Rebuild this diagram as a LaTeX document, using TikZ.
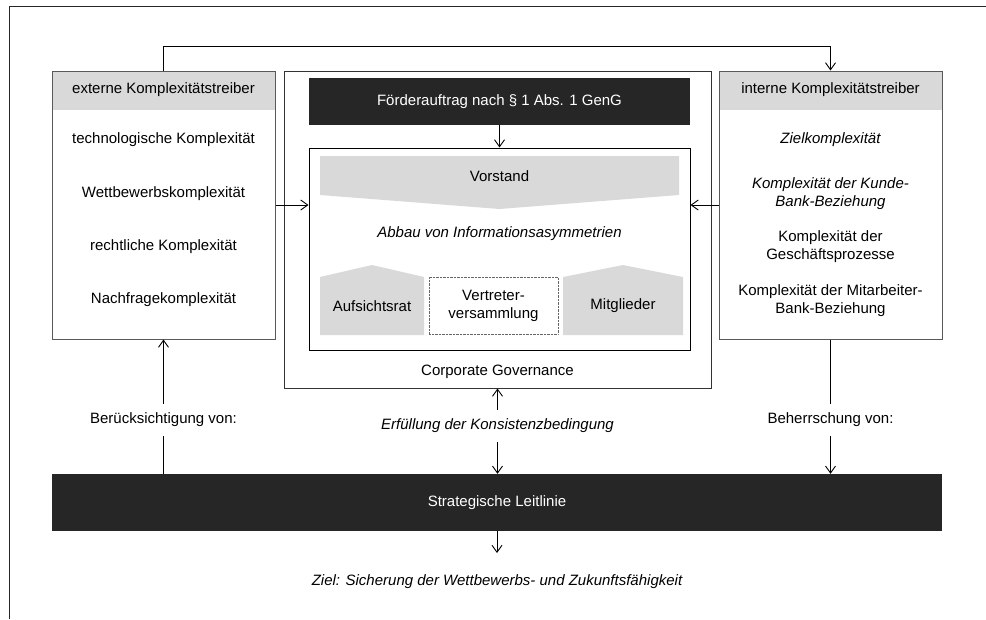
\documentclass[tikz,border=0pt]{standalone}
\usepackage{fontspec}
\setmainfont{Liberation Sans}
\usetikzlibrary{arrows.meta}
\definecolor{hellgrau}{HTML}{D9D9D9}
\definecolor{dunkel}{HTML}{262626}
\definecolor{rahmen}{HTML}{595959}
\tikzset{
  every node/.style={font=\fontsize{15}{18}\selectfont, align=center},
  treiber/.style={draw=rahmen, line width=1pt, minimum width=223pt, minimum height=268pt,
    path picture={\fill[hellgrau] (path picture bounding box.north west) rectangle ([yshift=-39pt]path picture bounding box.north east);}},
  schwarzbox/.style={fill=dunkel, text=white, inner sep=0pt},
  pfeil/.style={-{Straight Barb[length=7pt,width=10pt]}, line width=0.9pt},
  linie/.style={line width=0.9pt},
  marke/.style={minimum height=32pt, inner sep=0pt},
  organ/.style={fill=hellgrau},
}

\begin{document}
\begin{tikzpicture}[x=1pt, y=-1pt]
			\useasboundingbox (0,0) rectangle (986,619);
			
			%%%%% RAHMEN %%%%%
			\draw[line width=0.9pt, color=black!85] (9,619) -- (9,6) -- (986,6);
			
			%%%%% TREIBER %%%%%
			\node[treiber] (ext) at (163.5,205) {};
			\node (exthdr) at (163.5,90) {externe Komplexitätstreiber};
			\node (ext1) at (163.5,140) {technologische Komplexität};
			\node (ext2) at (163.5,194) {Wettbewerbskomplexität};
			\node (ext3) at (163.5,247) {rechtliche Komplexität};
			\node (ext4) at (163.5,300) {Nachfragekomplexität};
			
			\node[treiber] (int) at (830.5,205) {};
			\node (inthdr) at (830.5,90) {interne Komplexitätstreiber};
			\node (int1) at (830.5,140) {\itshape Zielkomplexität};
			\node (int2) at (830.5,194) {\itshape Komplexität der Kunde-\\\itshape Bank-Beziehung};
			\node (int3) at (830.5,247) {Komplexität der\\Geschäftsprozesse};
			\node (int4) at (830.5,301) {Komplexität der Mitarbeiter-\\Bank-Beziehung};
			
			%%%%% CORPORATE GOVERNANCE %%%%%
			\node[draw=black!80, line width=1pt, minimum width=427pt, minimum height=317pt] (cg) at (497.5,229.5) {};
			\node (cgtext) at (497.5,372) {Corporate Governance};
			
			\node[schwarzbox, minimum width=381pt, minimum height=47pt] (foerder) at (499.5,101.5) {Förderauftrag nach § 1 Abs. 1 GenG};
			\node[draw=black, line width=1pt, minimum width=381pt, minimum height=202pt] (inner) at (499.5,249) {};
			
			\fill[hellgrau] (320,156) -- (679,156) -- (679,195) -- (499.5,209) -- (320,195) -- cycle;
			\node (vorstand) at (499.5,176) {Vorstand};
			\node (abbau) at (499.5,234) {\itshape Abbau von Informationsasymmetrien};
			
			\fill[organ] (320,277) -- (372,265) -- (424,277) -- (424,335) -- (320,335) -- cycle;
			\node (aufsicht) at (372,306) {Aufsichtsrat};
			\node[draw=black!60, densely dotted, fill=white, minimum width=129pt, minimum height=57pt] (vertreter) at (493.5,305.5) {Vertreter-\\versammlung};
			\fill[organ] (563,277) -- (623,265) -- (683,277) -- (683,335) -- (563,335) -- cycle;
			\node (mitglieder) at (623,306) {Mitglieder};
			
			%%%%% LEITLINIE %%%%%
			\node[schwarzbox, minimum width=890pt, minimum height=57pt] (leit) at (497,502.5) {Strategische Leitlinie};
			
			\node[marke] (beruecks) at (163.5,420) {Berücksichtigung von:};
			\node[marke] (beherr) at (830.5,420) {Beherrschung von:};
			\node[marke] (erfuell) at (497.5,426) {\itshape Erfüllung der Konsistenzbedingung};
			\node (ziel) at (497,582) {\itshape Ziel: Sicherung der Wettbewerbs- und Zukunftsfähigkeit};
			\coordinate (zielpfeil) at (497,553);
			
			%%%%% VERBINDUNGEN %%%%%
			\draw[pfeil] (ext.north) -- ++(0,-24) -| (int.north);
			\draw[pfeil] (ext.east) -- (inner.west |- ext.east);
			\draw[pfeil] (int.west) -- (inner.east |- int.west);
			\draw[pfeil] (foerder.south) -- (inner.north);
			
			\draw[linie] (leit.north -| beruecks) -- (beruecks);
			\draw[pfeil] (beruecks) -- (ext.south);
			\draw[linie] (int.south) -- (beherr);
			\draw[pfeil] (beherr) -- (leit.north -| beherr);
			\draw[pfeil] (erfuell) -- (cg.south);
			\draw[pfeil] (erfuell) -- (leit.north -| erfuell);
			\draw[pfeil] (leit.south) -- (zielpfeil);
			
\end{tikzpicture}
\end{document}
